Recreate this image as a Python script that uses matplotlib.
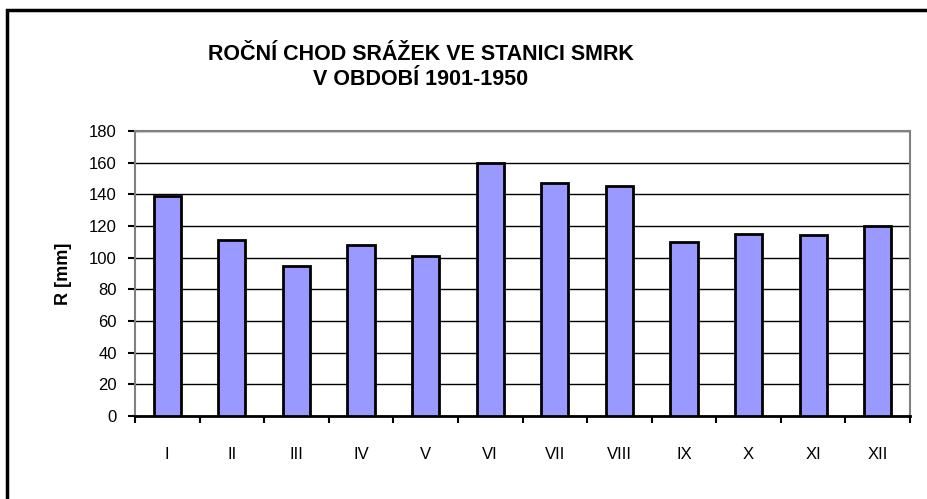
import matplotlib.pyplot as plt
from matplotlib.patches import Rectangle

months = ['I', 'II', 'III', 'IV', 'V', 'VI', 'VII', 'VIII', 'IX', 'X', 'XI', 'XII']
srazky = [139, 111, 95, 108, 101, 160, 147, 145, 110, 115, 114, 120]
yticks = [0, 20, 40, 60, 80, 100, 120, 140, 160, 180]

plt.rcParams['font.family'] = ['Liberation Sans', 'DejaVu Sans']

W, H = 927, 499
fig = plt.figure(figsize=(W / 100, H / 100), dpi=100)
ax = fig.add_axes([135 / W, 1 - 416 / H, 775 / W, 285 / H])

x = list(range(len(months)))
ax.bar(x, srazky, width=0.42, color='#9999ff', edgecolor='black', linewidth=2, zorder=3)

ax.set_xlim(-0.5, len(months) - 0.5)
ax.set_ylim(0, 180)
ax.set_yticks(yticks)
ax.set_yticklabels([str(v) for v in yticks], fontsize=12)
ax.yaxis.grid(True, color='black', linewidth=1)
ax.set_axisbelow(True)

# ticks between categories, labels under categories
ax.set_xticks([i - 0.5 for i in range(len(months) + 1)])
ax.set_xticklabels([])
ax.set_xticks(x, minor=True)
ax.set_xticklabels(months, minor=True, fontsize=12)
ax.tick_params(axis='x', which='major', direction='out', length=5, width=1.5)
ax.tick_params(axis='x', which='minor', length=0, pad=22)
ax.tick_params(axis='y', direction='out', length=5, width=1.5, pad=8)

for s in ['top', 'right', 'left']:
    ax.spines[s].set_color('#808080')
    ax.spines[s].set_linewidth(1.5)
ax.spines['bottom'].set_color('black')
ax.spines['bottom'].set_linewidth(2)

ax.set_ylabel('R [mm]', fontsize=13, fontweight='bold', labelpad=12)

fig.text(421 / W, 1 - 55 / H, 'ROČNÍ CHOD SRÁŽEK VE STANICI SMRK', ha='center', va='center',
         fontsize=15.5, fontweight='bold')
fig.text(421 / W, 1 - 80 / H, 'V OBDOBÍ 1901-1950', ha='center', va='center',
         fontsize=15.5, fontweight='bold')

# outer frame of the chart area
fig.patches.append(Rectangle((7 / W, -0.1), 1.2, 1 - 10 / H + 0.1, transform=fig.transFigure,
                             fill=False, edgecolor='black', linewidth=2.5))

fig.savefig('out.png', dpi=100)
